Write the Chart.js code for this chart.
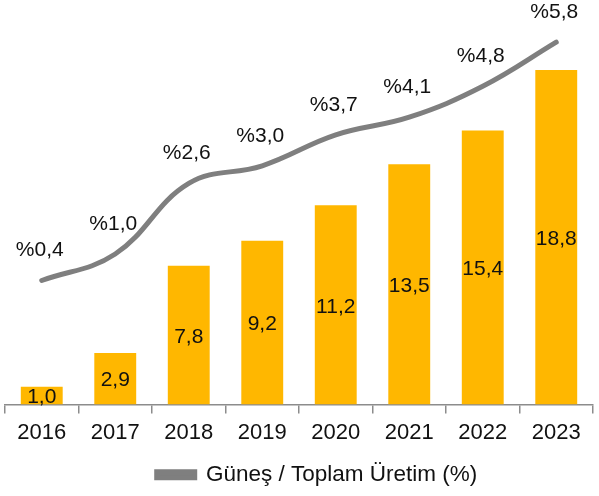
<!DOCTYPE html>
<html>
<head>
<meta charset="utf-8">
<script src="https://cdn.jsdelivr.net/npm/chart.js@4"></script>
<style>
  body { margin: 0; background: #fff; }
  #wrap { width: 599px; height: 496px; }
</style>
</head>
<body>
<div id="wrap"><canvas id="myChart" width="599" height="496"></canvas></div>
<script>
// data
var years = ['2016', '2017', '2018', '2019', '2020', '2021', '2022', '2023'];
var installed = [1.0, 2.9, 7.8, 9.2, 11.2, 13.5, 15.4, 18.8];
var sharePct = [0.4, 1.0, 2.6, 3.0, 3.7, 4.1, 4.8, 5.8];
var legendText = 'Güneş / Toplam Üretim (%)';

var fontFam = '"Liberation Sans", Arial, sans-serif';

function trNum(v) {
  return v.toFixed(1).replace('.', ',');
}

// draws the value labels (bars inside, line above)
var valueLabels = {
  id: 'valueLabels',
  afterLayout: function(chart) {
    // legend sits a bit right of centre in the original
    if (chart.legend) {
      chart.legend.left += 18;
      chart.legend.right += 18;
    }
  },
  afterDatasetsDraw: function(chart) {
    var ctx = chart.ctx;
    ctx.save();
    ctx.fillStyle = '#111';
    ctx.font = '21px ' + fontFam;
    ctx.textAlign = 'center';
    ctx.textBaseline = 'middle';
    var barMeta = chart.getDatasetMeta(1);
    barMeta.data.forEach(function(bar, i) {
      ctx.fillText(trNum(installed[i]), bar.x, (bar.y + bar.base) / 2 + 2);
    });
    var lineMeta = chart.getDatasetMeta(0);
    lineMeta.data.forEach(function(pt, i) {
      ctx.fillText('%' + trNum(sharePct[i]), pt.x - 2, pt.y - 30);
    });
    ctx.restore();
  }
};

var myChart = new Chart(document.getElementById('myChart'), {
  type: 'bar',
  data: {
    labels: years,
    datasets: [{
      type: 'line',
      label: legendText,
      data: sharePct,
      yAxisID: 'y2',
      borderColor: '#7f7f7f',
      backgroundColor: '#7f7f7f',
      borderWidth: 5,
      borderCapStyle: 'round',
      tension: 0.4,
      pointRadius: 0,
      order: 0
    }, {
      label: 'Kurulu Güç',
      data: installed,
      yAxisID: 'y',
      backgroundColor: '#FFB700',
      categoryPercentage: 1,
      barPercentage: 0.57,
      order: 1
    }]
  },
  options: {
    responsive: false,
    animation: false,
    layout: { padding: { top: 10, left: 5, right: 6, bottom: 0 } },
    plugins: {
      tooltip: { enabled: false },
      legend: {
        position: 'bottom',
        labels: {
          filter: function(item) { return item.datasetIndex === 0; },
          boxWidth: 38,
          boxHeight: 6,
          color: '#111',
          padding: 7,
          font: { family: fontFam, size: 22.5 }
        }
      }
    },
    scales: {
      x: {
        offset: true,
        afterFit: function(scale) { scale.height = 52; },
        grid: {
          display: true,
          offset: true,
          drawOnChartArea: false,
          tickLength: 9,
          color: '#8c8c8c',
          lineWidth: 1.5
        },
        border: { color: '#8c8c8c', width: 1.5 },
        ticks: {
          color: '#111',
          padding: 6,
          font: { family: fontFam, size: 22 }
        }
      },
      y: {
        display: false,
        min: 0,
        max: 22.17
      },
      y2: {
        display: false,
        min: -2.41,
        max: 6.53
      }
    }
  },
  plugins: [valueLabels]
});
</script>
</body>
</html>
